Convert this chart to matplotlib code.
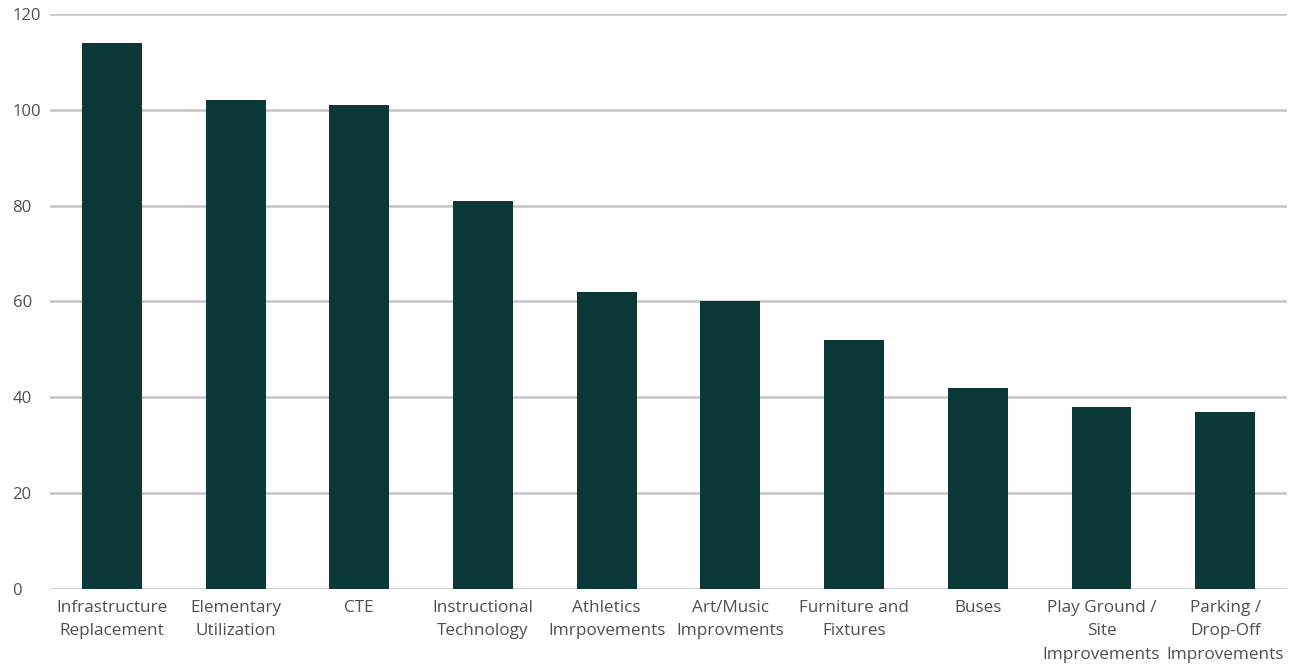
import matplotlib
matplotlib.use("Agg")
import matplotlib.pyplot as plt

categories = ["Infrastructure\nReplacement", "Elementary\nUtilization", "CTE",
              "Instructional\nTechnology", "Athletics\nImrpovements", "Art/Music\nImprovments",
              "Furniture and\nFixtures", "Buses", "Play Ground /\nSite\nImprovements",
              "Parking /\nDrop-Off\nImprovements"]
values = [114, 102, 101, 81, 62, 60, 52, 42, 38, 37]
yticks = [0, 20, 40, 60, 80, 100, 120]

plt.rcParams['font.family'] = ['Open Sans', 'DejaVu Sans']

fig = plt.figure(figsize=(12.93, 6.66), dpi=100)
ax = fig.add_axes([0.0387, 0.1156, 0.9567, 0.8634])
x = list(range(len(categories)))
ax.bar(x, values, width=0.485, color="#0a3937", zorder=3)
ax.set_xlim(-0.5, len(categories) - 0.5)
ax.set_ylim(0, 120)
ax.set_yticks(yticks)
ax.yaxis.grid(True, color="#c4c4c4", linewidth=1.8, zorder=0)
ax.set_axisbelow(True)
for s in ax.spines.values():
    s.set_visible(False)
ax.set_xticks(x)
ax.set_xticklabels(categories, fontsize=12.3, color="#4f4f4f", linespacing=1.6)
ax.tick_params(axis='both', length=0)
ax.tick_params(axis='x', pad=8)
ax.tick_params(axis='y', pad=27, labelsize=12, labelcolor="#4f4f4f")
for lbl in ax.get_yticklabels():
    lbl.set_horizontalalignment('left')
fig.savefig("out.png", dpi=100)
